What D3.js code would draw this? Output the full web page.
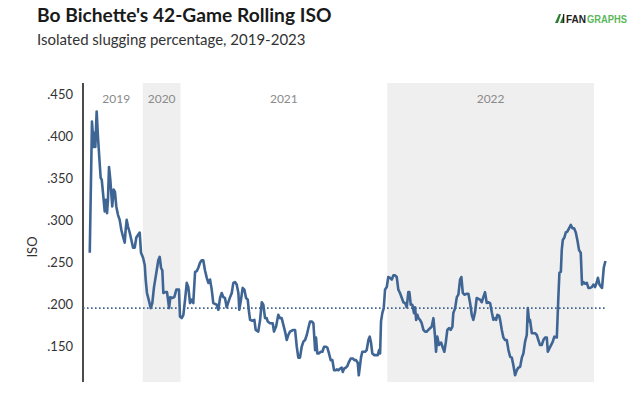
<!DOCTYPE html>
<html><head><meta charset="utf-8">
<script src="https://cdn.jsdelivr.net/npm/d3@7"></script>
<style>
body{margin:0;background:#fff;}
svg{display:block;font-family:Lato,"Open Sans",sans-serif;}
</style></head>
<body><svg id="c" width="639" height="406"></svg>
<script>
// Season lengths (games) and labels
const seasons = ["2019","2020","2021","2022","2023"];
const seasonGames = [46, 29, 159, 159, 135];
const shadedSeasons = ["2020","2022"];
const yTicks = [0.15, 0.20, 0.25, 0.30, 0.35, 0.40, 0.45];
const leagueAvg = 0.195;
// Cumulative game number (x) and 42-game rolling ISO (y)
const games = [5.2,6.9,8.2,9.0,9.5,10.5,11.5,12.8,13.6,14.4,15.4,16.7,17.5,18.5,19.2,20.0,21.0,22.5,23.6,24.6,25.6,26.9,28.2,29.5,30.8,32.1,32.8,33.6,34.6,35.9,37.2,38.5,39.8,41.0,42.3,43.6,44.6,46.2,47.5,48.2,49.2,50.5,52.1,53.3,54.6,56.4,57.9,59.0,60.0,61.0,61.8,63.3,64.6,65.4,66.2,67.2,68.7,70.2,71.8,73.8,74.6,75.9,77.2,78.5,79.8,81.0,82.3,83.6,84.8,86.2,87.5,88.7,90.0,91.3,92.5,93.8,95.2,96.4,97.7,99.0,100.2,101.5,102.8,104.1,105.4,106.7,107.9,109.2,110.5,111.8,113.1,114.4,115.6,116.9,118.2,119.5,120.2,121.5,122.8,124.1,125.4,126.7,127.7,128.5,130.2,131.8,132.8,134.8,136.2,137.5,138.7,140.0,141.3,142.1,143.8,145.9,146.9,148.5,150.2,151.5,152.8,154.1,155.4,156.7,157.9,159.2,160.5,161.8,163.1,164.4,165.6,166.9,168.2,169.5,170.8,172.1,173.3,174.6,175.9,177.2,178.5,179.2,180.2,181.5,182.8,184.1,185.4,186.7,187.9,189.2,190.5,191.8,193.1,194.4,195.2,196.4,197.7,199.0,199.8,200.8,202.1,203.3,204.6,205.9,207.5,208.7,210.0,211.3,212.1,213.1,213.8,214.8,215.9,216.9,218.2,219.5,220.5,221.5,222.5,224.1,226.7,227.7,228.5,229.2,230.2,231.3,232.3,233.6,234.8,236.2,237.5,238.7,240.0,241.3,242.5,243.8,245.2,246.4,247.7,249.0,250.2,251.0,252.1,253.3,254.6,255.4,256.2,257.2,258.0,259.2,260.5,261.8,263.1,264.4,265.6,266.9,268.2,269.5,270.8,271.5,272.5,273.8,275.4,276.7,277.9,279.0,280.2,281.5,282.8,284.1,284.8,286.2,287.5,288.7,290.0,291.0,292.1,293.3,295.2,296.4,297.7,299.0,300.2,301.5,302.8,304.1,305.4,306.7,307.9,309.2,310.5,311.8,313.1,314.4,315.6,316.9,317.7,318.7,320.0,320.8,322.1,323.3,324.6,325.9,327.2,328.5,329.8,331.0,332.3,333.6,334.8,336.2,337.5,338.7,340.0,341.3,342.1,343.1,343.8,345.2,346.4,347.7,349.0,350.2,351.5,352.8,354.1,355.4,356.7,357.5,358.7,360.0,361.3,362.5,364.4,365.6,366.4,367.5,368.2,369.0,370.2,371.3,372.5,373.8,375.2,376.4,377.7,379.0,380.2,381.5,382.8,383.8,384.8,386.2,387.5,388.7,390.0,391.3,392.5,393.8,395.2,396.0,397.2,398.5,399.2,400.5,401.8];
const iso = [.261,.417,.387,.404,.387,.429,.399,.368,.350,.348,.332,.310,.324,.308,.324,.363,.348,.316,.336,.333,.316,.306,.300,.288,.280,.273,.288,.300,.292,.285,.276,.267,.267,.279,.282,.285,.261,.255,.246,.229,.213,.205,.195,.201,.220,.237,.252,.256,.243,.240,.213,.214,.214,.205,.195,.208,.207,.208,.217,.217,.185,.183,.187,.205,.225,.220,.201,.205,.201,.238,.239,.243,.249,.252,.252,.240,.231,.225,.229,.217,.201,.200,.199,.193,.207,.213,.208,.207,.196,.202,.208,.213,.225,.226,.223,.213,.193,.205,.219,.217,.207,.205,.190,.181,.180,.181,.169,.167,.181,.202,.199,.183,.183,.179,.177,.177,.167,.173,.187,.183,.183,.175,.167,.157,.163,.167,.168,.169,.169,.149,.136,.136,.149,.155,.157,.163,.171,.179,.179,.177,.145,.160,.141,.141,.143,.143,.149,.149,.148,.141,.133,.133,.121,.121,.122,.121,.123,.124,.119,.123,.124,.126,.131,.135,.135,.133,.133,.130,.115,.127,.136,.143,.143,.143,.145,.157,.161,.154,.141,.139,.139,.145,.141,.179,.189,.195,.217,.220,.232,.231,.229,.234,.234,.232,.217,.213,.207,.202,.201,.196,.214,.214,.199,.199,.189,.196,.181,.187,.183,.181,.177,.169,.167,.167,.169,.171,.173,.183,.160,.143,.161,.151,.154,.148,.143,.154,.169,.171,.169,.173,.189,.195,.208,.211,.229,.232,.213,.211,.212,.212,.201,.187,.181,.190,.207,.206,.205,.202,.208,.214,.201,.202,.201,.190,.181,.183,.181,.187,.186,.181,.169,.160,.157,.157,.145,.137,.136,.127,.115,.121,.124,.125,.136,.141,.155,.163,.195,.179,.181,.165,.165,.165,.163,.157,.151,.151,.157,.160,.160,.143,.147,.151,.155,.161,.160,.208,.237,.238,.264,.276,.279,.285,.286,.290,.294,.290,.290,.285,.276,.264,.261,.223,.226,.224,.225,.219,.219,.220,.223,.220,.226,.231,.223,.220,.219,.243,.251];

const svg = d3.select("#c");
const x = d3.scaleLinear().domain([0, 403]).range([83, 607]);
const y = d3.scaleLinear().domain([0.107, 0.463]).range([382, 83]);

// season boundaries
const starts = []; let acc = 0;
seasonGames.forEach(g => { starts.push(acc); acc += g; });
const bands = seasons.map((s, i) => ({season: s, start: starts[i], end: starts[i] + seasonGames[i]}));

svg.append("g").selectAll("rect")
  .data(bands.filter(b => shadedSeasons.includes(b.season)))
  .join("rect")
  .attr("x", d => x(d.start)).attr("width", d => x(d.end) - x(d.start))
  .attr("y", y.range()[1]).attr("height", y.range()[0] - y.range()[1])
  .attr("fill", "#efefef");

// season labels
svg.append("g").selectAll("text")
  .data(bands.slice(0, 4))
  .join("text")
  .attr("x", (d, i) => x(((i === 0 ? games[0] : d.start) + d.end) / 2))
  .attr("y", 103)
  .attr("text-anchor", "middle")
  .attr("font-size", 12)
  .attr("fill", "#8a8a8a")
  .text(d => d.season);

// y axis
const yAxis = d3.axisLeft(y).tickValues(yTicks)
  .tickFormat(d => d3.format(".3f")(d).replace(/^0/, ""))
  .tickSize(0).tickPadding(10);
const ga = svg.append("g").attr("transform", "translate(83,0)").call(yAxis);
ga.select(".domain").remove();
ga.selectAll("text").attr("font-family", "Lato, sans-serif").attr("font-size", 13).attr("fill", "#333");
svg.append("line").attr("x1", 83).attr("x2", 83).attr("y1", y.range()[1]).attr("y2", y.range()[0])
  .attr("stroke", "#111").attr("stroke-width", 1.5);

svg.append("text").attr("transform", "translate(37,247) rotate(-90)")
  .attr("text-anchor", "middle").attr("font-size", 13).attr("fill", "#333").text("ISO");

// league average dotted line
svg.append("line").attr("x1", x(0)).attr("x2", x(403)).attr("y1", y(leagueAvg)).attr("y2", y(leagueAvg))
  .attr("stroke", "#3f6594").attr("stroke-width", 1.6).attr("stroke-dasharray", "1.6,2.4");

// rolling line
const pts = games.map((g, i) => [g, iso[i]]);
svg.append("path").datum(pts)
  .attr("fill", "none").attr("stroke", "#3f6594").attr("stroke-width", 2.6)
  .attr("stroke-linejoin", "round")
  .attr("d", d3.line().x(d => x(d[0])).y(d => y(d[1])));

// titles
svg.append("text").attr("x", 37).attr("y", 22).attr("font-size", 19.2).attr("font-weight", 700)
  .attr("fill", "#1a1a1a").text("Bo Bichette's 42-Game Rolling ISO");
svg.append("text").attr("x", 37).attr("y", 45).attr("font-size", 15).attr("fill", "#333")
  .text("Isolated slugging percentage, 2019-2023");

// logo
const lg = svg.append("g").attr("transform", "translate(555,23)");
lg.append("path").attr("d", "M0,0 L4,-9 L6,-9 L3,0 Z M5,0 L8,-7 L9,0 Z").attr("fill", "#2e7d32");
lg.append("rect").attr("x", 8).attr("y", -9).attr("width", 1.3).attr("height", 9).attr("fill", "#222");
lg.append("text").attr("x", 11).attr("y", 0).attr("font-family", "Liberation Sans, Arial, sans-serif")
  .attr("font-size", 11).attr("font-weight", 700).attr("fill", "#222")
  .attr("textLength", 20).attr("lengthAdjust", "spacingAndGlyphs").text("FAN");
lg.append("text").attr("x", 32).attr("y", 0).attr("font-family", "Liberation Sans, Arial, sans-serif")
  .attr("font-size", 11).attr("font-weight", 700).attr("fill", "#5cb85c")
  .attr("textLength", 40).attr("lengthAdjust", "spacingAndGlyphs").text("GRAPHS");
</script></body></html>
